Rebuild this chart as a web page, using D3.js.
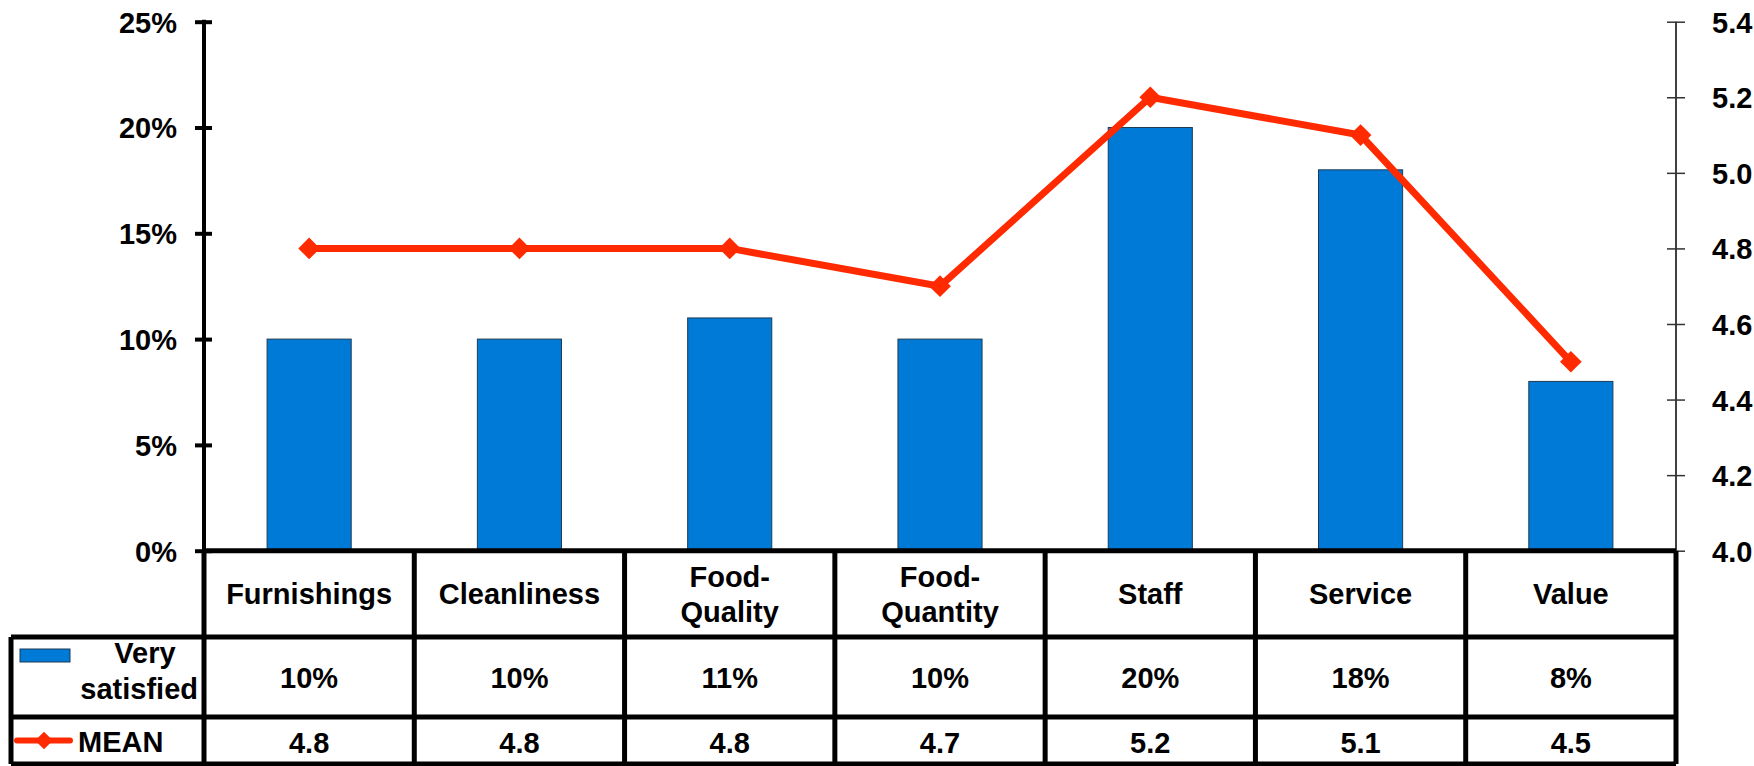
<!DOCTYPE html>
<html>
<head>
<meta charset="utf-8">
<script src="https://cdn.jsdelivr.net/npm/d3@7"></script>
<style>
  html, body { margin: 0; padding: 0; background: #fff; }
  svg { display: block; }
  text { font-family: "Liberation Sans", Arial, sans-serif; font-weight: bold; fill: #000; }
</style>
</head>
<body>
<svg id="chart" width="1754" height="766"></svg>
<script>
// Category labels (header row of the data table)
const categories = ["Furnishings", "Cleanliness", "Food-Quality", "Food-Quantity", "Staff", "Service", "Value"];
const headerLines = [["Furnishings"], ["Cleanliness"], ["Food-", "Quality"], ["Food-", "Quantity"], ["Staff"], ["Service"], ["Value"]];
// Share of respondents "Very satisfied" (%)
const verySatisfied = [10, 10, 11, 10, 20, 18, 8];
// Mean score per category
const meanScore = [4.8, 4.8, 4.8, 4.7, 5.2, 5.1, 4.5];
// Axis ticks
const pctTicks = [0, 5, 10, 15, 20, 25];
const meanTicks = [4.0, 4.2, 4.4, 4.6, 4.8, 5.0, 5.2, 5.4];

const BLUE = "#007ad7";
const RED = "#ff2a00";
const FS = "29px";

const svg = d3.select("#chart");
const plot = { left: 204, right: 1676, top: 21.7, bottom: 550.7 };
const table = { left: 11, rows: [550.7, 637, 717, 764] };

const x = d3.scaleBand().domain(categories).range([plot.left, plot.right]).padding(0);
const yPct = d3.scaleLinear().domain([0, 25]).range([plot.bottom, plot.top]);
const yMean = d3.scaleLinear().domain([4.0, 5.4]).range([plot.bottom, plot.top]);
const barW = x.bandwidth() * 0.4;
const cx = c => x(c) + x.bandwidth() / 2;

// Bars
svg.append("g").selectAll("rect").data(categories).join("rect")
  .attr("x", (c) => cx(c) - barW / 2)
  .attr("y", (c, i) => yPct(verySatisfied[i]))
  .attr("width", barW)
  .attr("height", (c, i) => plot.bottom - yPct(verySatisfied[i]))
  .attr("fill", BLUE)
  .attr("stroke", "#1f3b55")
  .attr("stroke-width", 1);

// Mean line with diamond markers
const line = d3.line().x((d, i) => cx(categories[i])).y(d => yMean(d));
svg.append("path").datum(meanScore)
  .attr("d", line)
  .attr("fill", "none")
  .attr("stroke", RED)
  .attr("stroke-width", 7)
  .attr("stroke-linejoin", "miter");
const diamond = d3.symbol().type(d3.symbolDiamond2 || d3.symbolDiamond).size(300);
svg.append("g").selectAll("path").data(meanScore).join("path")
  .attr("d", diamond)
  .attr("transform", (d, i) => `translate(${cx(categories[i])},${yMean(d)})`)
  .attr("fill", RED);

// Left axis (percent)
const leftAxis = d3.axisLeft(yPct).tickValues(pctTicks).tickFormat(d => d + "%").tickSize(9).tickPadding(18);
const gl = svg.append("g").attr("transform", `translate(${plot.left},0)`).call(leftAxis);
gl.select(".domain").attr("stroke", "#000").attr("stroke-width", 4).attr("d", `M0,${plot.top - 2}V${plot.bottom}`);
gl.selectAll(".tick line").attr("stroke", "#000").attr("stroke-width", 4).attr("x1", -9).attr("x2", 8);
gl.selectAll(".tick text").style("font-size", FS).attr("dy", "0.36em").attr("font-family", null);

// Right axis (mean)
const rightAxis = d3.axisRight(yMean).tickValues(meanTicks).tickFormat(d3.format(".1f")).tickSize(9).tickPadding(27);
const gr = svg.append("g").attr("transform", `translate(${plot.right},0)`).call(rightAxis);
gr.select(".domain").attr("stroke", "#000").attr("stroke-width", 1.5).attr("d", `M0,${plot.top}V${plot.bottom}`);
gr.selectAll(".tick line").attr("stroke", "#333").attr("stroke-width", 1.5).attr("x1", -9).attr("x2", 9);
gr.selectAll(".tick text").style("font-size", FS).attr("dy", "0.36em").attr("font-family", null);

// Data table
const tg = svg.append("g");
const r = table.rows;
const lineAttrs = s => s.attr("stroke", "#000").attr("stroke-width", 5);
// horizontal rules
tg.append("line").attr("x1", plot.left).attr("x2", plot.right).attr("y1", r[0]).attr("y2", r[0]).call(lineAttrs);
[r[1], r[2], r[3]].forEach(yv => {
  tg.append("line").attr("x1", table.left).attr("x2", plot.right).attr("y1", yv).attr("y2", yv).call(lineAttrs);
});
// vertical rules
const colEdges = categories.map(c => x(c)).concat([plot.right]);
colEdges.forEach(xv => {
  tg.append("line").attr("x1", xv).attr("x2", xv).attr("y1", r[0]).attr("y2", r[3]).call(lineAttrs);
});
tg.append("line").attr("x1", table.left).attr("x2", table.left).attr("y1", r[1]).attr("y2", r[3]).call(lineAttrs);

// Header row
const headerMid = (r[0] + r[1]) / 2;
categories.forEach((c, i) => {
  const lines = headerLines[i];
  const lh = 35;
  lines.forEach((t, k) => {
    tg.append("text")
      .attr("x", cx(c))
      .attr("y", headerMid + (k - (lines.length - 1) / 2) * lh)
      .attr("dy", "0.36em")
      .attr("text-anchor", "middle")
      .style("font-size", FS)
      .text(t);
  });
});

// Value rows
const row2Mid = (r[1] + r[2]) / 2;
const row3Mid = (r[2] + r[3]) / 2;
categories.forEach((c, i) => {
  tg.append("text").attr("x", cx(c)).attr("y", row2Mid).attr("dy", "0.38em")
    .attr("text-anchor", "middle").style("font-size", FS).text(verySatisfied[i] + "%");
  tg.append("text").attr("x", cx(c)).attr("y", row3Mid).attr("dy", "0.42em")
    .attr("text-anchor", "middle").style("font-size", FS).text(d3.format(".1f")(meanScore[i]));
});

// Legend keys in the row headers
tg.append("rect").attr("x", 20).attr("y", 649).attr("width", 50).attr("height", 13)
  .attr("fill", BLUE).attr("stroke", "#1f3b55").attr("stroke-width", 1);
tg.append("text").attr("x", 145).attr("y", 663).attr("text-anchor", "middle").style("font-size", FS).text("Very");
tg.append("text").attr("x", 198).attr("y", 699).attr("text-anchor", "end").style("font-size", FS).text("satisfied");
tg.append("line").attr("x1", 17).attr("x2", 70).attr("y1", row3Mid).attr("y2", row3Mid)
  .attr("stroke", RED).attr("stroke-width", 6).attr("stroke-linecap", "round");
tg.append("path").attr("d", d3.symbol().type(d3.symbolDiamond2 || d3.symbolDiamond).size(200))
  .attr("transform", `translate(44,${row3Mid})`).attr("fill", RED);
tg.append("text").attr("x", 78).attr("y", row3Mid).attr("dy", "0.4em").style("font-size", FS).text("MEAN");
</script>
</body>
</html>
